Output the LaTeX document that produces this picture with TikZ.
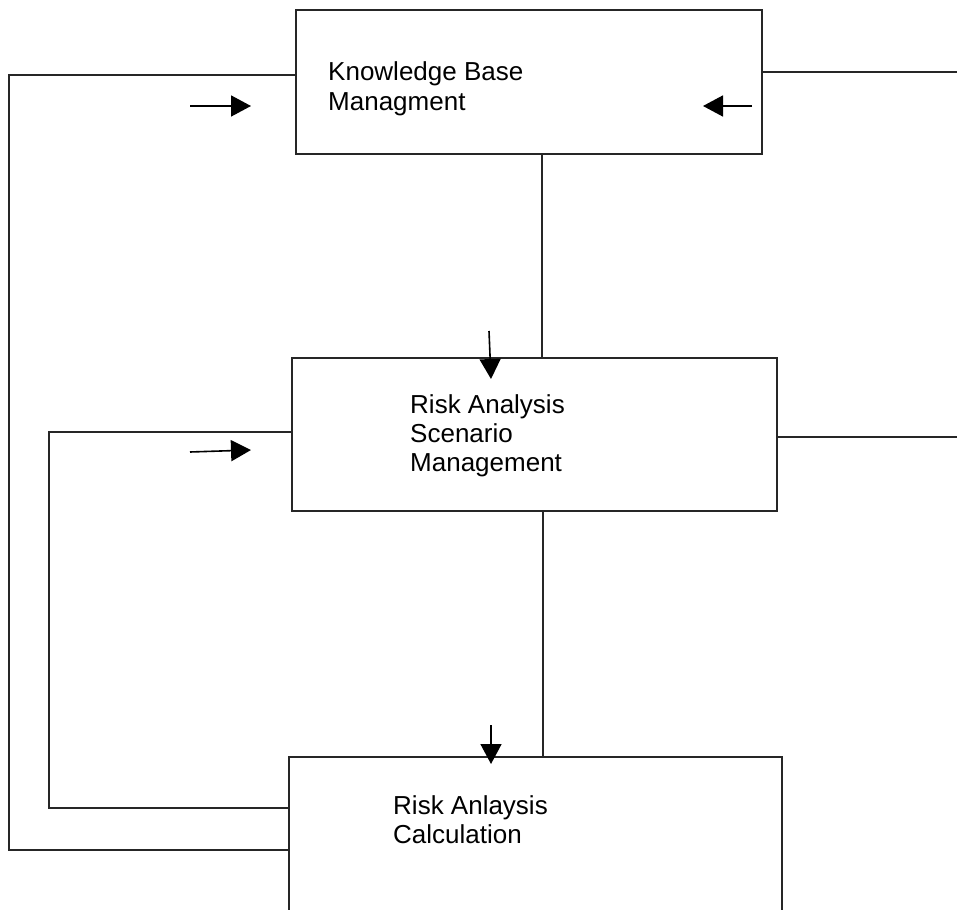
\documentclass[tikz,border=0pt]{standalone}
\usepackage{fontspec}
\setmainfont{Liberation Sans}
\usetikzlibrary{arrows.meta,calc}
\begin{document}
\begin{tikzpicture}[x=1pt,y=-1pt,
  box/.style={draw=black!85,line width=1.3pt,inner sep=0pt},
  conn/.style={draw=black!85,line width=1.3pt},
  arr/.style={draw=black,line width=1.6pt,-{Triangle[length=20pt,width=21pt]}},
  lbl/.style={anchor=base west,align=left,inner sep=0pt,font=\fontsize{26}{29}\selectfont}]
\useasboundingbox (0,0) rectangle (957,909);
\clip (0,0) rectangle (957,909);
% boxes
\node[box,minimum width=466pt,minimum height=144pt] (kb) at (529,82) {};
\node[box,minimum width=485pt,minimum height=153pt] (ras) at (534.5,434.5) {};
\node[box,minimum width=493pt,minimum height=300pt] (rac) at (535.5,907) {};
% labels (anchor = baseline of last line)
\node[lbl,font=\fontsize{26}{30}\selectfont] (t1) at (328,111) {Knowledge Base\\Managment};
\node[lbl] (t2) at (410,471) {Risk Analysis\\Scenario\\Management};
\node[lbl] (t3) at (393,843) {Risk Anlaysis\\Calculation};
% connector coordinates
\coordinate (a1) at (9,75);
\coordinate (a2) at (9,850);
\coordinate (b1) at (49,432);
\coordinate (b2) at (49,808);
\coordinate (r1) at (957,72);
\coordinate (r2) at (957,437);
\coordinate (v1) at (542,0);
\coordinate (v2) at (543,0);
% connectors
\draw[conn] (a1 -| kb.west) -- (a1) -- (a2) -- (a2 -| rac.west);
\draw[conn] (b1 -| ras.west) -- (b1) -- (b2) -- (b2 -| rac.west);
\draw[conn] (r1 -| kb.east) -- (r1);
\draw[conn] (r2 -| ras.east) -- (r2);
\draw[conn] (v1 |- kb.south) -- (v1 |- ras.north);
\draw[conn] (v2 |- ras.south) -- (v2 |- rac.north);
% free arrows
\coordinate (p1s) at (190,106); \coordinate (p1e) at (251,106);
\coordinate (p2s) at (752,106); \coordinate (p2e) at (703,106);
\coordinate (p3s) at (489,331); \coordinate (p3e) at (491,379);
\coordinate (p4s) at (190,452); \coordinate (p4e) at (251,450);
\coordinate (p5s) at (491,725); \coordinate (p5e) at (491,764);
\draw[arr] (p1s) -- (p1e);
\draw[arr] (p2s) -- (p2e);
\draw[arr] (p3s) -- (p3e);
\draw[arr] (p4s) -- (p4e);
\draw[arr] (p5s) -- (p5e);
\end{tikzpicture}
\end{document}
